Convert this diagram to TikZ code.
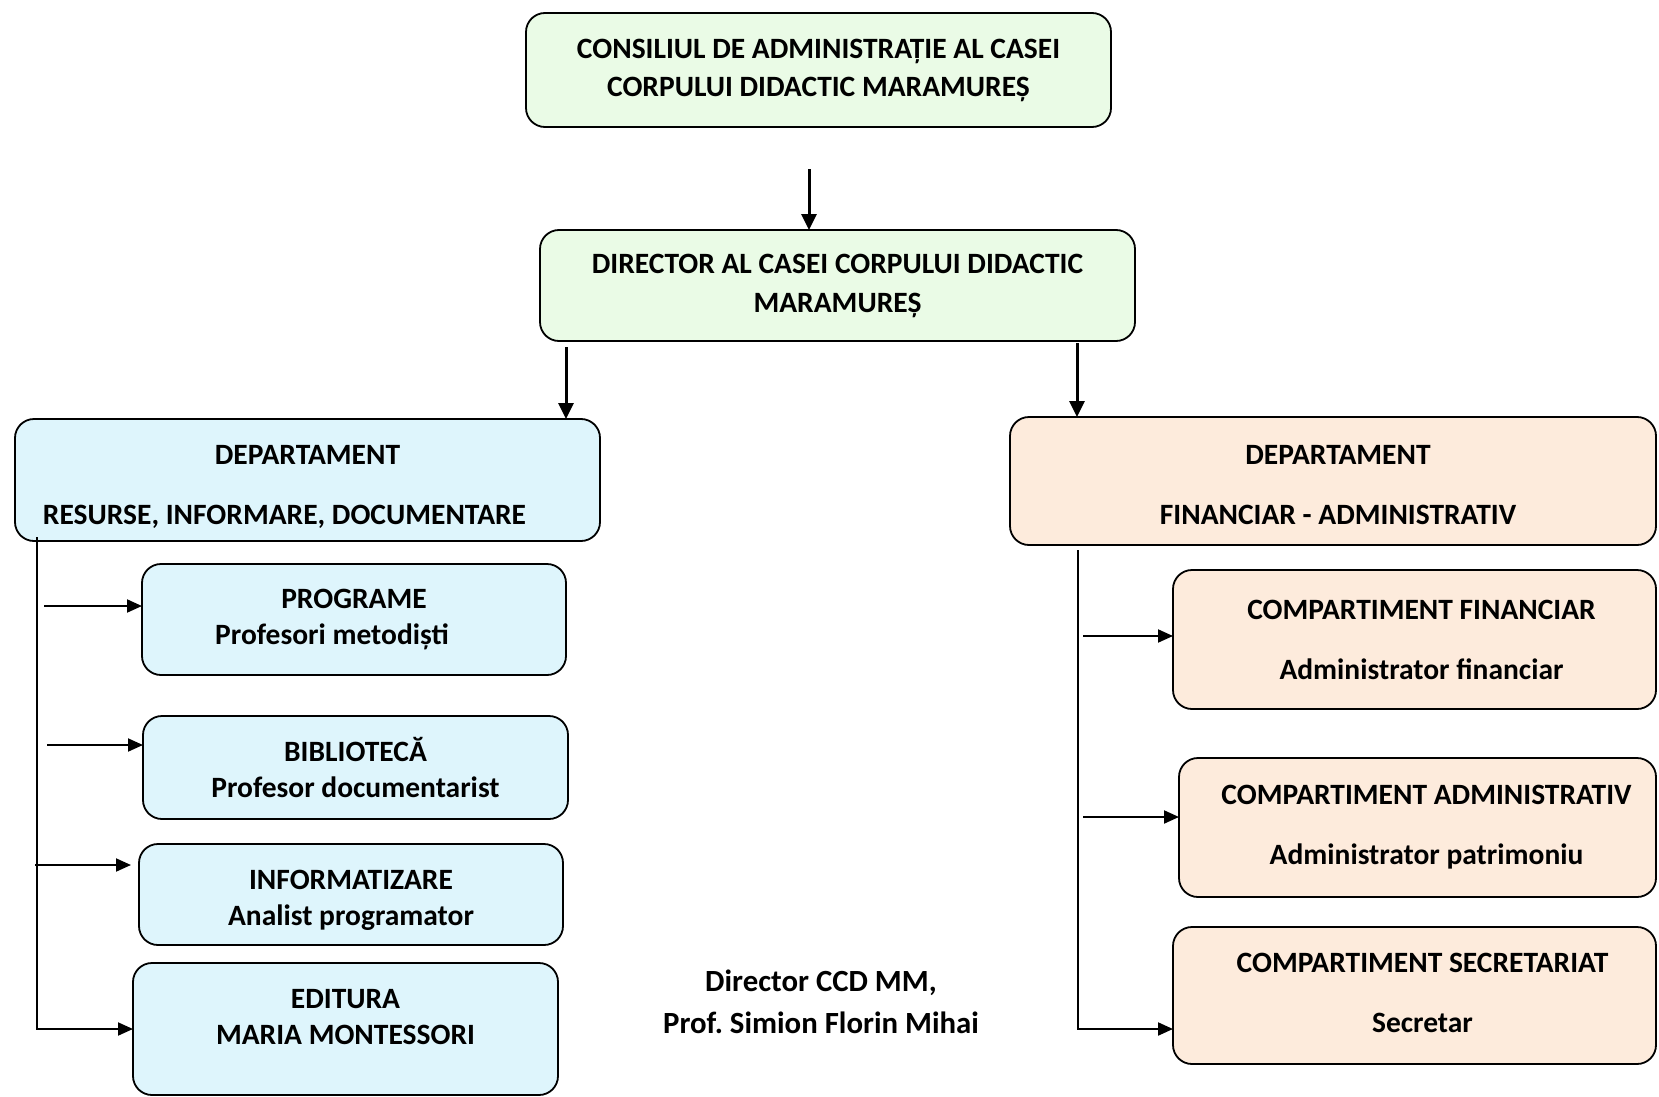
\documentclass[tikz,border=0pt]{standalone}
\usepackage{fontspec}
\setmainfont{Carlito}
\usetikzlibrary{arrows.meta}
\definecolor{boxgreen}{RGB}{234,251,230}
\definecolor{boxblue}{RGB}{222,245,252}
\definecolor{boxpeach}{RGB}{253,235,220}
\begin{document}
\frenchspacing
\begin{tikzpicture}[x=1pt,y=-1pt,
  box/.style={draw, line width=1.8pt, rounded corners=19pt, inner sep=0pt, outer sep=0pt,
    font=\fontsize{29.5}{36}\selectfont\bfseries, align=center},
  arr/.style={line width=2pt, -{Triangle[length=15pt,width=13pt]}},
  varr/.style={line width=3pt, -{Triangle[length=16pt,width=15pt]}},
  sig/.style={font=\fontsize{30.8}{36}\selectfont\bfseries, align=center}
]
\useasboundingbox (0,0) rectangle (1659,1097);

\node[box, fill=boxgreen, minimum width=585, minimum height=114] (cons) at (818.5,70)
  {CONSILIUL DE ADMINISTRAȚIE AL CASEI\\[2pt]CORPULUI DIDACTIC MARAMUREȘ};
\node[box, fill=boxgreen, minimum width=595, minimum height=111] (dir) at (837.5,285.5)
  {DIRECTOR AL CASEI CORPULUI DIDACTIC\\[3pt]MARAMUREȘ};

\node[box, fill=boxblue, minimum width=585, minimum height=122] (dleft) at (307.5,480)
  {\mbox{}\\[-2.4pt]DEPARTAMENT\\[24pt]RESURSE, INFORMARE, DOCUMENTARE\hspace*{46pt}};
\node[box, fill=boxpeach, minimum width=646, minimum height=128] (dright) at (1333,481)
  {\mbox{}\\[-9pt]\hspace*{10pt}DEPARTAMENT\\[24pt]\hspace*{10pt}FINANCIAR - ADMINISTRATIV};

\node[box, fill=boxblue, minimum width=424, minimum height=111] (prog) at (354,619.5)
  {PROGRAME\\Profesori metodiști\hspace*{44pt}};
\node[box, fill=boxblue, minimum width=425, minimum height=103] (bib) at (355.5,767.5)
  {BIBLIOTECĂ\\Profesor documentarist};
\node[box, fill=boxblue, minimum width=424, minimum height=101] (inf) at (351,894.5)
  {\mbox{}\\[-4.5pt]INFORMATIZARE\\Analist programator};
\node[box, fill=boxblue, minimum width=425, minimum height=132] (edit) at (345.5,1029)
  {EDITURA\\MARIA MONTESSORI\\[-12pt]\mbox{}};

\node[box, fill=boxpeach, minimum width=483, minimum height=139] (cfin) at (1414.5,639.5)
  {\hspace*{14pt}COMPARTIMENT FINANCIAR\\[24pt]\hspace*{14pt}Administrator financiar};
\node[box, fill=boxpeach, minimum width=477, minimum height=139] (cadm) at (1417.5,827.5)
  {\hspace*{18pt}COMPARTIMENT ADMINISTRATIV\\[24pt]\hspace*{18pt}Administrator patrimoniu};
\node[box, fill=boxpeach, minimum width=483, minimum height=137] (csec) at (1414.5,995.5)
  {\hspace*{16pt}COMPARTIMENT SECRETARIAT\\[24pt]\hspace*{16pt}Secretar\\[-30pt]\mbox{}};

\node[sig] (sign) at (821,1002) {Director CCD MM,\\[6pt]Prof. Simion Florin Mihai};

% top-down arrows
\coordinate (s1) at (809,169);
\draw[varr] (s1) -- (s1 |- dir.north);
\coordinate (s2) at (566,347);
\draw[varr] (s2) -- (s2 |- dleft.north);
\coordinate (s3) at (1077,343);
\draw[varr] (s3) -- (s3 |- dright.north);

% left branch
\coordinate (t1) at (37,537);
\draw[arr] (t1) |- (edit.west);
\coordinate (p1) at (44,606);
\draw[arr] (p1) -- (p1 -| prog.west);
\coordinate (p2) at (47,745);
\draw[arr] (p2) -- (p2 -| bib.west);
\coordinate (p3) at (35,865);
\draw[arr, shorten >=8pt] (p3) -- (p3 -| inf.west);

% right branch
\coordinate (t2) at (1078,550);
\coordinate (e2) at (1078,1029);
\draw[arr] (t2) -- (e2) -- (e2 -| csec.west);
\coordinate (q1) at (1083,636);
\draw[arr] (q1) -- (q1 -| cfin.west);
\coordinate (q2) at (1083,817);
\draw[arr] (q2) -- (q2 -| cadm.west);
\end{tikzpicture}
\end{document}
